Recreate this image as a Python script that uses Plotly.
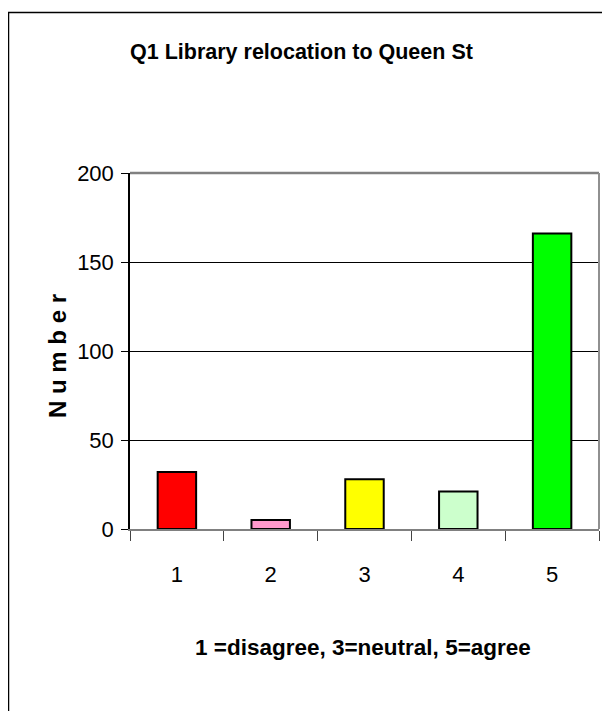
import plotly.graph_objects as go

categories = ["1", "2", "3", "4", "5"]
counts = [32, 5, 28, 21, 166]
bar_colors = ["#FF0000", "#FF99CC", "#FFFF00", "#CCFFCC", "#00FF00"]
y_ticks = [0, 50, 100, 150, 200]

title_text = "Q1 Library relocation to Queen St"
x_title = "1 =disagree, 3=neutral, 5=agree"
y_title = "N u m b e r"

OFF = 8  # default page body margin
W, H = 610 - OFF, 711 - OFF
# plot area in page pixels
L, R, T, B = 130 - OFF, 599 - OFF, 173 - OFF, 529 - OFF
FONT = "Liberation Sans, Arial, sans-serif"


def px(x):
    return (x - OFF - L) / (R - L)


def py(y):
    return (B - (y - OFF)) / (B - T)


fig = go.Figure(
    go.Bar(
        x=categories,
        y=counts,
        marker=dict(color=bar_colors, line=dict(color="black", width=2)),
        width=0.41,
    )
)

fig.update_layout(
    width=W,
    height=H,
    margin=dict(l=L, r=W - R, t=T, b=H - B),
    paper_bgcolor="white",
    plot_bgcolor="white",
    showlegend=False,
    font=dict(family=FONT, color="black"),
    xaxis=dict(
        type="category",
        tickson="boundaries",
        ticks="outside",
        ticklen=10,
        tickcolor="#444444",
        tickwidth=1,
        showline=True,
        linecolor="#808080",
        linewidth=2,
        showgrid=False,
        tickfont=dict(size=22),
        ticklabelstandoff=25,
    ),
    yaxis=dict(
        range=[0, 200],
        tickvals=y_ticks,
        ticks="outside",
        ticklen=7,
        tickcolor="black",
        showline=True,
        linecolor="black",
        linewidth=1.5,
        showgrid=True,
        gridcolor="black",
        gridwidth=1,
        zeroline=False,
        tickfont=dict(size=22),
        ticklabelstandoff=3,
    ),
    shapes=[
        dict(type="line", xref="paper", yref="paper", x0=0, x1=1, y0=1, y1=1,
             line=dict(color="#808080", width=2.5)),
        dict(type="line", xref="paper", yref="paper", x0=1, x1=1, y0=0, y1=1,
             line=dict(color="#909090", width=2)),
        dict(type="rect", xref="paper", yref="paper",
             x0=px(8.5), x1=px(660), y0=py(760), y1=py(12.5),
             line=dict(color="black", width=1.5), fillcolor="rgba(0,0,0,0)",
             layer="above"),
    ],
    annotations=[
        dict(text="<b>" + title_text + "</b>", xref="paper", yref="paper",
             x=px(301), y=py(52), showarrow=False, font=dict(size=21.5),
             xanchor="center", yanchor="middle"),
        dict(text="<b>" + x_title + "</b>", xref="paper", yref="paper",
             x=px(363), y=py(647), showarrow=False, font=dict(size=22.5),
             xanchor="center", yanchor="middle"),
        dict(text="<b>" + y_title + "</b>", xref="paper", yref="paper",
             x=px(57), y=py(356), showarrow=False, font=dict(size=24),
             textangle=-90, xanchor="center", yanchor="middle"),
    ],
)

fig.write_html("out.html")
